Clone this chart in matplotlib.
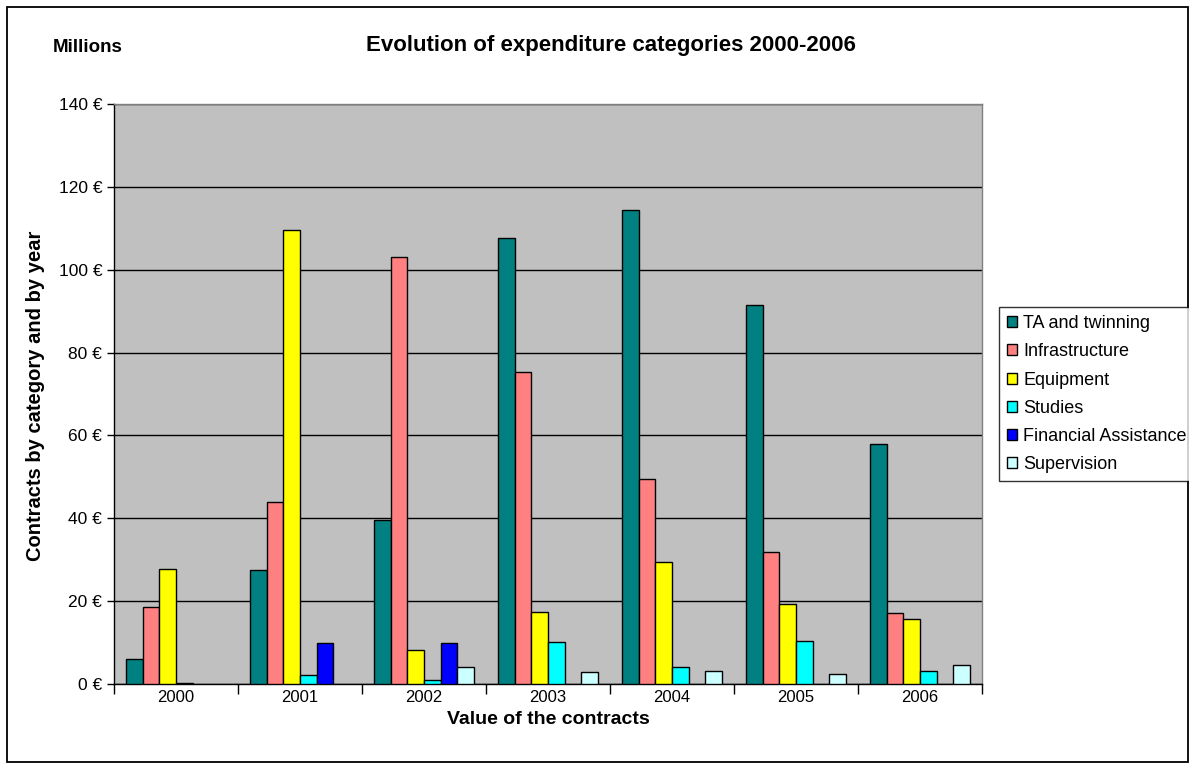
import numpy as np
import matplotlib
matplotlib.use("Agg")
import matplotlib.pyplot as plt
from matplotlib.patches import Rectangle, Patch
from matplotlib.ticker import FixedLocator, NullFormatter

plt.rcParams['font.family'] = ['Liberation Sans', 'DejaVu Sans']

years = ["2000", "2001", "2002", "2003", "2004", "2005", "2006"]
series_names = ["TA and twinning", "Infrastructure", "Equipment", "Studies",
                "Financial Assistance", "Supervision"]
ta_twinning = [6.0, 27.6, 39.6, 107.7, 114.5, 91.6, 57.9]
infrastructure = [18.7, 44.0, 103.1, 75.2, 49.5, 31.9, 17.1]
equipment = [27.8, 109.6, 8.2, 17.3, 29.4, 19.2, 15.7]
studies = [0.3, 2.2, 1.0, 10.1, 4.2, 10.5, 3.2]
financial_assistance = [0.0, 9.8, 9.8, 0.0, 0.0, 0.0, 0.0]
supervision = [0.0, 0.0, 4.2, 2.8, 3.2, 2.5, 4.5]
y_ticks = [0, 20, 40, 60, 80, 100, 120, 140]

series = [ta_twinning, infrastructure, equipment, studies,
          financial_assistance, supervision]
colors = ["#008080", "#FF8080", "#FFFF00", "#00FFFF", "#0000FF", "#CCFFFF"]

W, H = 1189, 769
fig = plt.figure(figsize=(W / 100, H / 100), dpi=100)
fig.patch.set_facecolor("white")

# outer chart border
fig.add_artist(Rectangle((7 / W, 7 / H), (W - 1) / W - 7 / W, (H - 14) / H,
                         transform=fig.transFigure, fill=False,
                         edgecolor="black", linewidth=1.3))

ax = fig.add_axes([114 / W, (H - 684) / H, 868 / W, 580 / H])
ax.set_facecolor("#C0C0C0")

n = len(series)
gap = 1.5
bw = 1.0 / (n + gap)
x = np.arange(len(years))
for i, (vals, c) in enumerate(zip(series, colors)):
    offs = (i - (n - 1) / 2) * bw
    lws = [1.0 if v > 0 else 0.0 for v in vals]
    ax.bar(x + offs, vals, width=bw, color=c, edgecolor="black",
           linewidth=lws, zorder=3)

ax.set_xlim(-0.5, len(years) - 0.5)
ax.set_ylim(0, 140)
ax.set_yticks(y_ticks)
ax.set_yticklabels([f"{v} €" for v in y_ticks], fontsize=12.5)
ax.yaxis.grid(True, color="black", linewidth=1.0, zorder=1)
ax.set_axisbelow(True)

ax.set_xticks(x)
ax.set_xticklabels(years, fontsize=12)
ax.tick_params(axis="x", which="major", length=0, pad=4)
ax.xaxis.set_minor_locator(FixedLocator(np.arange(-0.5, len(years) + 0.5, 1.0)))
ax.xaxis.set_minor_formatter(NullFormatter())
ax.tick_params(axis="x", which="minor", length=7, width=1, color="black")
ax.tick_params(axis="y", length=5, width=1, color="black", pad=3.5)

for side in ["top", "right"]:
    ax.spines[side].set_color("#808080")
    ax.spines[side].set_linewidth(1.0)
ax.spines["left"].set_color("black")
ax.spines["bottom"].set_color("black")
ax.spines["left"].set_linewidth(1.0)
ax.spines["bottom"].set_linewidth(1.0)

fig.text(611 / W, 1 - 45 / H, "Evolution of expenditure categories 2000-2006",
         ha="center", va="center", fontsize=16, fontweight="bold")
fig.text(53 / W, 1 - 47 / H, "Millions", ha="left", va="center",
         fontsize=13.5, fontweight="bold")
fig.text(36 / W, 1 - 396 / H, "Contracts by category and by year",
         ha="center", va="center", rotation=90, fontsize=14.5, fontweight="bold")
fig.text(548 / W, 1 - 719 / H, "Value of the contracts",
         ha="center", va="center", fontsize=14, fontweight="bold")

handles = [Patch(facecolor=c, edgecolor="black", linewidth=1.0) for c in colors]
leg = fig.legend(handles, series_names, loc="upper left",
                 bbox_to_anchor=(999 / W, 1 - 307 / H),
                 bbox_transform=fig.transFigure, fontsize=13,
                 frameon=True, fancybox=False, shadow=False,
                 handlelength=0.55, handleheight=0.55, handletextpad=0.35,
                 labelspacing=0.62, borderpad=0.45, borderaxespad=0)
leg.get_frame().set_edgecolor("black")
leg.get_frame().set_linewidth(1.0)

fig.savefig("out.png", dpi=100)
